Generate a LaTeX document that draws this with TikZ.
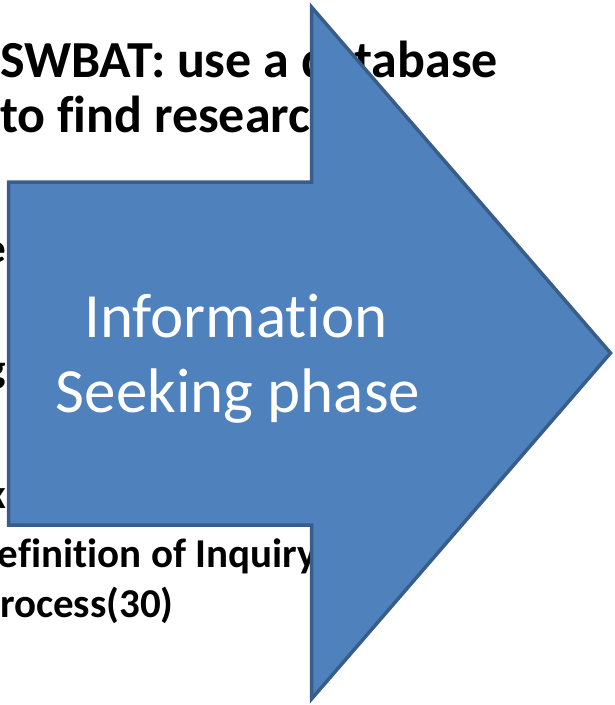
\documentclass[tikz,border=0pt]{standalone}
\usepackage{fontspec}
\setmainfont{Carlito}[RawFeature=-liga]
\usepackage{tikz}
\definecolor{arrowfill}{HTML}{4F81BD}
\definecolor{arrowline}{HTML}{385D8A}
\tikzstyle{every node}=[inner sep=0pt,outer sep=0pt]
\tikzstyle{titletext}=[font=\bfseries\fontsize{52}{56}\selectfont,anchor=base west]
\tikzstyle{listtext}=[font=\bfseries\fontsize{41}{50}\selectfont,anchor=base west]
\tikzstyle{phasetext}=[font=\fontsize{63}{75}\selectfont,text=white,anchor=base]

\begin{document}
\begin{tikzpicture}[x=1pt,y=-1pt]
  \clip (0,0) rectangle (614,705);
  % slide text behind the arrow
  \node[titletext] (swbat) at (0,77) {SWBAT: use a database};
  \node[titletext] (find) at (0,132) {to find research};
  \node[listtext] (fragE) at (-14,262) {e};
  \node[listtext] (fragG) at (-13,382) {g};
  \node[listtext] (fragK) at (-13,508) {k};
  \node[listtext] (defn) at (-2,567) {efinition of Inquiry};
  \node[listtext] (proc) at (0,617) {rocess(30)};
  % big arrow
  \draw[fill=arrowfill,draw=arrowline,line width=3.5pt,line join=miter]
    (8.5,182) -- (311.5,182) -- (311.5,7) -- (610.5,353) -- (311.5,699)
    -- (311.5,525) -- (8.5,525) -- cycle;
  \node[phasetext] (info) at (236,337) {Information};
  \node[phasetext] (seek) at (238,412) {Seeking phase};
\end{tikzpicture}
\end{document}
